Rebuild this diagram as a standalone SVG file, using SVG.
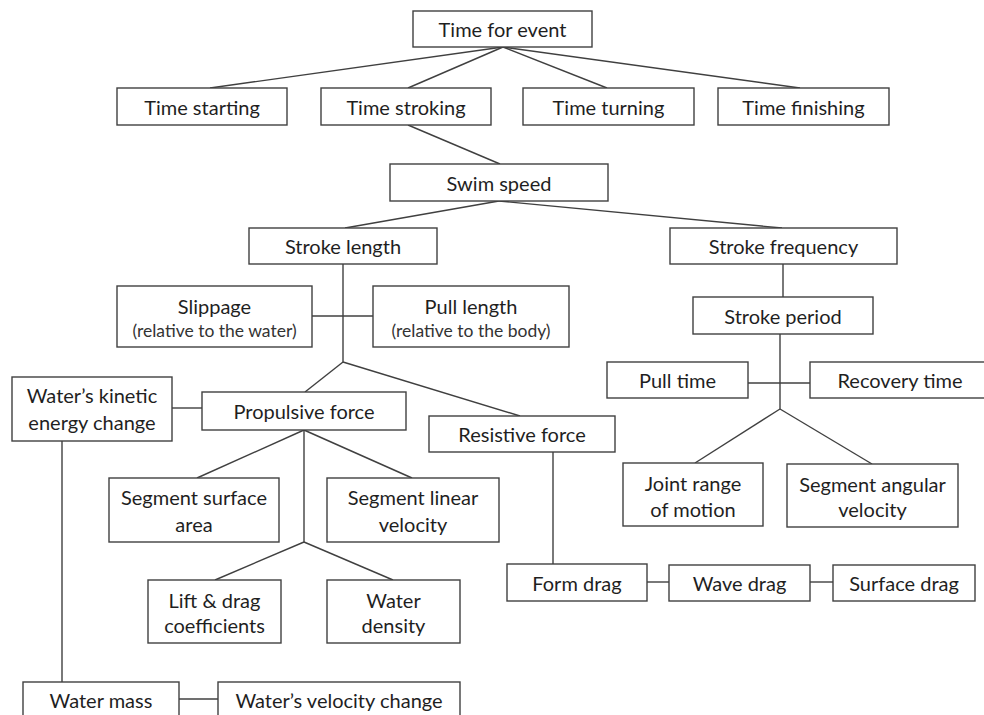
<svg xmlns="http://www.w3.org/2000/svg" width="984" height="715" viewBox="0 0 984 715">
<style>
rect{fill:#fff;stroke:#404040;stroke-width:1.4}
text{font-family:Lato,"Liberation Sans",sans-serif;font-size:20px;fill:#1f1f1f;text-anchor:middle;dominant-baseline:central}
text.s{font-size:17.5px;fill:#333}
#connectors line{stroke:#404040;stroke-width:1.4;fill:none}
</style>
<rect x="0" y="0" width="984" height="715" style="fill:#fff;stroke:none"/>
<g id="connectors">
<line x1="503" y1="47" x2="210" y2="88"/>
<line x1="503" y1="47" x2="408" y2="88"/>
<line x1="503" y1="47" x2="607" y2="88"/>
<line x1="503" y1="47" x2="800" y2="88"/>
<line x1="408" y1="125" x2="500" y2="164"/>
<line x1="499" y1="201" x2="345" y2="228"/>
<line x1="499" y1="201" x2="782" y2="228"/>
<line x1="343" y1="264" x2="343" y2="362"/>
<line x1="312" y1="316" x2="373" y2="316"/>
<line x1="343" y1="362" x2="305" y2="392"/>
<line x1="343" y1="362" x2="520" y2="416"/>
<line x1="783" y1="264" x2="783" y2="297"/>
<line x1="780" y1="334" x2="780" y2="409"/>
<line x1="748" y1="383" x2="810" y2="383"/>
<line x1="780" y1="409" x2="695" y2="463"/>
<line x1="780" y1="409" x2="872" y2="464"/>
<line x1="172" y1="408" x2="202" y2="408"/>
<line x1="62" y1="441" x2="62" y2="682"/>
<line x1="304" y1="430" x2="197" y2="478"/>
<line x1="304" y1="430" x2="412" y2="478"/>
<line x1="304" y1="430" x2="304" y2="542"/>
<line x1="304" y1="542" x2="215" y2="580"/>
<line x1="304" y1="542" x2="393" y2="580"/>
<line x1="553" y1="452" x2="553" y2="564"/>
<line x1="647" y1="582" x2="669" y2="582"/>
<line x1="810" y1="582" x2="833" y2="582"/>
<line x1="179" y1="699" x2="218" y2="699"/>
</g>
<g id="time-for-event"><rect x="413" y="11" width="179" height="36"/><text x="502.5" y="29">Time for event</text></g>
<g id="time-starting"><rect x="117" y="88" width="170" height="37"/><text x="202" y="106.5">Time starting</text></g>
<g id="time-stroking"><rect x="321" y="88" width="170" height="37"/><text x="406" y="106.5">Time stroking</text></g>
<g id="time-turning"><rect x="523" y="88" width="171" height="37"/><text x="608.5" y="106.5">Time turning</text></g>
<g id="time-finishing"><rect x="718" y="88" width="171" height="37"/><text x="803.5" y="106.5">Time finishing</text></g>
<g id="swim-speed"><rect x="390" y="164" width="218" height="37"/><text x="499" y="182.5">Swim speed</text></g>
<g id="stroke-length"><rect x="249" y="228" width="188" height="36"/><text x="343" y="246">Stroke length</text></g>
<g id="stroke-frequency"><rect x="670" y="228" width="227" height="36"/><text x="783.5" y="246">Stroke frequency</text></g>
<g id="slippage"><rect x="117" y="286" width="195" height="61"/><text x="214.5" y="305.5">Slippage</text><text class="s" x="214.5" y="330.5">(relative to the water)</text></g>
<g id="pull-length"><rect x="373" y="286" width="196" height="61"/><text x="471" y="305.5">Pull length</text><text class="s" x="471" y="330.5">(relative to the body)</text></g>
<g id="stroke-period"><rect x="693" y="297" width="180" height="37"/><text x="783" y="315.5">Stroke period</text></g>
<g id="pull-time"><rect x="607" y="362" width="141" height="36"/><text x="677.5" y="380">Pull time</text></g>
<g id="recovery-time"><rect x="810" y="362" width="180" height="36"/><text x="900" y="380">Recovery time</text></g>
<g id="water-kinetic"><rect x="12" y="377" width="160" height="64"/><text x="92" y="395">Water’s kinetic</text><text x="92" y="421.5">energy change</text></g>
<g id="propulsive-force"><rect x="202" y="392" width="204" height="38"/><text x="304" y="411">Propulsive force</text></g>
<g id="resistive-force"><rect x="429" y="416" width="186" height="36"/><text x="522" y="434">Resistive force</text></g>
<g id="segment-surface-area"><rect x="109" y="478" width="170" height="64"/><text x="194" y="496.5">Segment surface</text><text x="194" y="524">area</text></g>
<g id="segment-linear-velocity"><rect x="327" y="478" width="172" height="64"/><text x="413" y="496.5">Segment linear</text><text x="413" y="524">velocity</text></g>
<g id="joint-range"><rect x="623" y="463" width="140" height="63"/><text x="693" y="483">Joint range</text><text x="693" y="508.5">of motion</text></g>
<g id="segment-angular-velocity"><rect x="787" y="464" width="171" height="63"/><text x="872.5" y="483.5">Segment angular</text><text x="872.5" y="509">velocity</text></g>
<g id="lift-drag"><rect x="148" y="580" width="133" height="63"/><text x="214.5" y="599.5">Lift &amp; drag</text><text x="214.5" y="625">coefficients</text></g>
<g id="water-density"><rect x="327" y="580" width="133" height="63"/><text x="393.5" y="599.5">Water</text><text x="393.5" y="625">density</text></g>
<g id="form-drag"><rect x="507" y="564" width="140" height="37"/><text x="577" y="582.5">Form drag</text></g>
<g id="wave-drag"><rect x="669" y="565" width="141" height="36"/><text x="739.5" y="583">Wave drag</text></g>
<g id="surface-drag"><rect x="833" y="565" width="142" height="36"/><text x="904" y="583">Surface drag</text></g>
<g id="water-mass"><rect x="23" y="682" width="156" height="40"/><text x="101" y="700">Water mass</text></g>
<g id="water-velocity-change"><rect x="218" y="682" width="242" height="40"/><text x="339" y="700">Water’s velocity change</text></g>
</svg>
